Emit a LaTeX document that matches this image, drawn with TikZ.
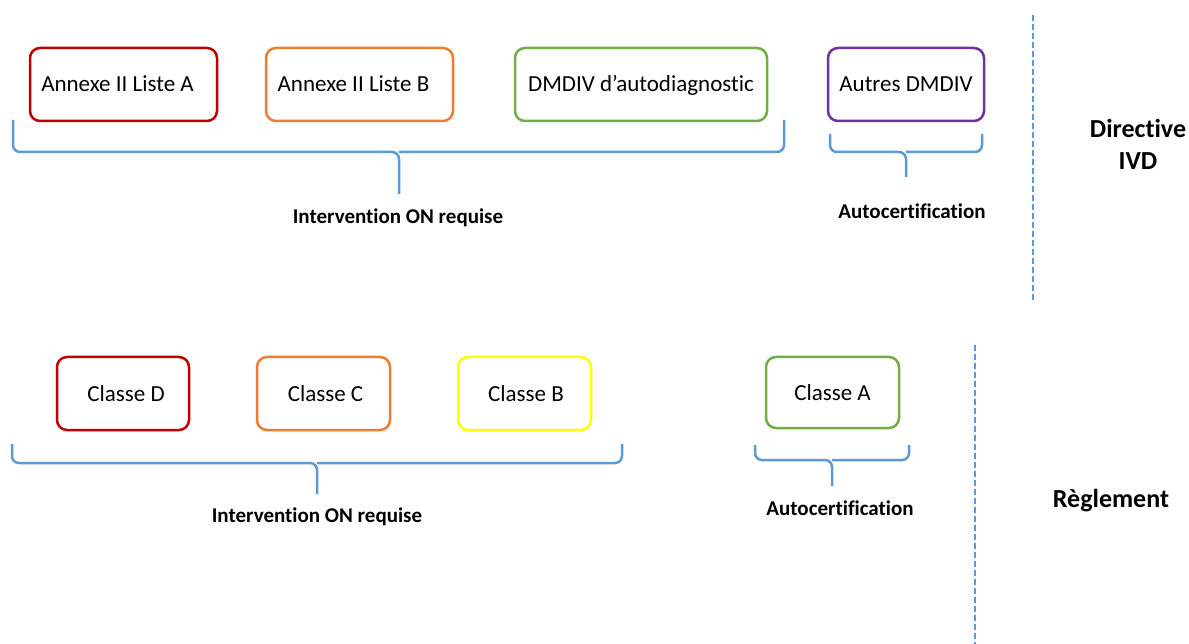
\documentclass[tikz,border=0pt]{standalone}
\usepackage{fontspec}
\setmainfont[Ligatures=NoCommon]{Carlito}
\definecolor{boxred}{HTML}{C00000}
\definecolor{boxorange}{HTML}{ED7D31}
\definecolor{boxgreen}{HTML}{70AD47}
\definecolor{boxpurple}{HTML}{7030A0}
\definecolor{boxyellow}{HTML}{FFFF00}
\definecolor{braceblue}{HTML}{5B9BD5}
\tikzset{
	box/.style={draw, rounded corners=10pt, line width=2.5pt, minimum height=73pt, inner sep=0pt, text height=15pt, text depth=0pt, font=\fontsize{23}{27}\selectfont},
	bracket/.style={draw=braceblue, line width=2.5pt, rounded corners=7pt},
	lbl/.style={font=\fontsize{21}{25}\selectfont\bfseries},
	side/.style={font=\fontsize{26}{32}\selectfont\bfseries, align=center},
	sep/.style={draw=braceblue, line width=2.5pt, dash pattern=on 6pt off 3pt}
}
\begin{document}
\begin{tikzpicture}[x=1pt,y=-1pt]
		\useasboundingbox (0,0) rectangle (1189,644);
		
		%directive
		\node[box,draw=boxred,minimum width=187pt](listeA) at (123.5,84.5) {Annexe II Liste A\kern12pt};
		\node[box,draw=boxorange,minimum width=187pt](listeB) at (359.5,84.5) {Annexe II Liste B\kern12pt};
		\node[box,draw=boxgreen,minimum width=252pt](autodiag) at (641,84.5) {DMDIV d’autodiagnostic};
		\node[box,draw=boxpurple,minimum width=156pt](autres) at (906,84.5) {Autres DMDIV};
		\draw[bracket] (13,120) -- (13,152) -- (399,152) -- (399,194);
		\draw[bracket] (784,120) -- (784,152) -- (399,152);
		\draw[bracket] (830,134) -- (830,152) -- (906,152) -- (906,177);
		\draw[bracket] (982,134) -- (982,152) -- (906,152);
		\node[lbl](onA) at (398,218) {Intervention ON requise};
		\node[lbl](autoA) at (912,211) {Autocertification};
		
		%reglement
		\node[box,draw=boxred,minimum width=132pt](classeD) at (123,393.5) {\kern6pt Classe D};
		\node[box,draw=boxorange,minimum width=133pt](classeC) at (323.5,393.5) {\kern4pt Classe C};
		\node[box,draw=boxyellow,minimum width=133pt](classeB) at (524.5,393.5) {\kern3pt Classe B};
		\node[box,draw=boxgreen,minimum width=133pt,minimum height=71pt](classeA) at (832.5,392.5) {Classe A};
		\draw[bracket] (12,444) -- (12,463) -- (317,463) -- (317,494);
		\draw[bracket] (622,444) -- (622,463) -- (317,463);
		\draw[bracket] (755,445) -- (755,460) -- (832,460) -- (832,486);
		\draw[bracket] (909,445) -- (909,460) -- (832,460);
		\node[lbl](onB) at (317,517) {Intervention ON requise};
		\node[lbl](autoB) at (840,508) {Autocertification};
		
		%labels
		\draw[sep] (1033,15) -- (1033,303);
		\draw[sep] (975,345) -- (975,644);
		\node[side](ivd) at (1138,144) {Directive\\IVD};
		\node[side](regl) at (1111,501) {Règlement};
		\end{tikzpicture}
\end{document}
